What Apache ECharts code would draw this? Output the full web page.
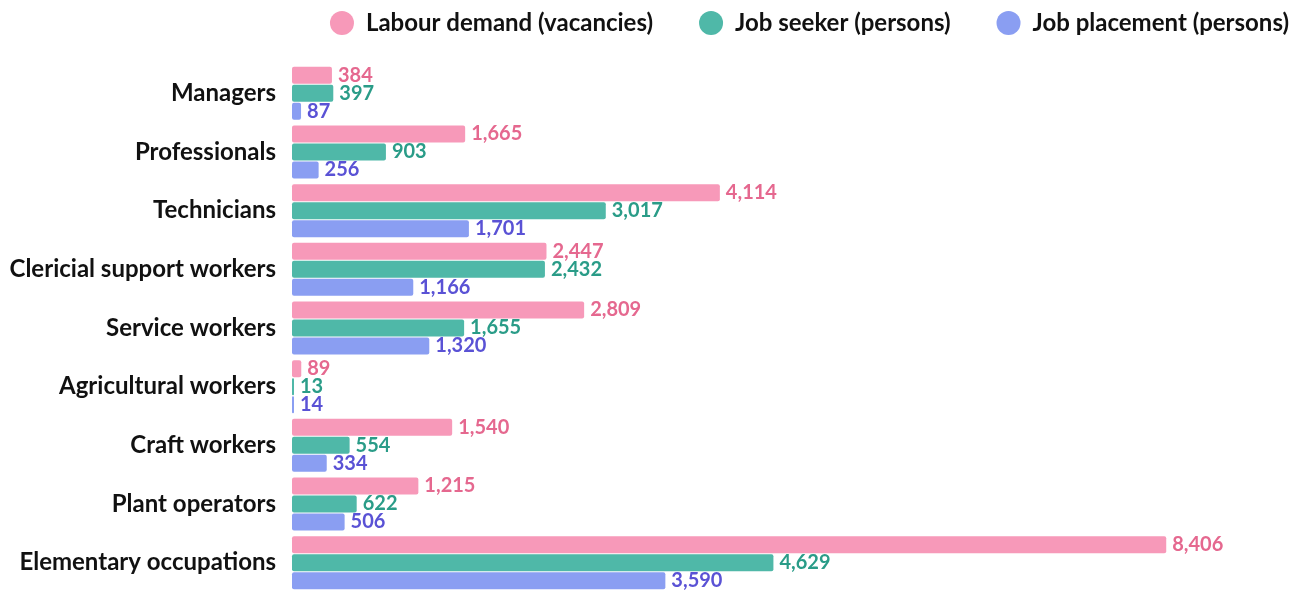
<!DOCTYPE html>
<html>
<head>
<meta charset="utf-8">
<script src="https://cdn.jsdelivr.net/npm/echarts@6/dist/echarts.min.js"></script>
<style>
  html, body { margin: 0; padding: 0; background: #fff; }
  #chart { width: 1302px; height: 592px; }
</style>
</head>
<body>
<div id="chart"></div>
<script>
  var categories = ['Managers', 'Professionals', 'Technicians', 'Clericial support workers',
    'Service workers', 'Agricultural workers', 'Craft workers', 'Plant operators', 'Elementary occupations'];
  var labourDemand = [384, 1665, 4114, 2447, 2809, 89, 1540, 1215, 8406];
  var jobSeeker = [397, 903, 3017, 2432, 1655, 13, 554, 622, 4629];
  var jobPlacement = [87, 256, 1701, 1166, 1320, 14, 334, 506, 3590];
  var seriesNames = ['Labour demand (vacancies)', 'Job seeker (persons)', 'Job placement (persons)'];

  var chart = echarts.init(document.getElementById('chart'));

  function makeSeries(name, data, barColor, textColor) {
    return {
      name: name,
      type: 'bar',
      data: data,
      barWidth: 17,
      barGap: '6%',
      barMinHeight: 2,
      itemStyle: { color: barColor, borderRadius: 2 },
      label: {
        show: true,
        position: 'right',
        distance: 6,
        color: textColor,
        fontFamily: 'Lato',
        fontWeight: 'bold',
        fontSize: 20,
        formatter: function (p) { return p.value.toLocaleString('en-US'); }
      }
    };
  }

  var option = {
    animation: false,
    color: ['#F799B9', '#4FB8A8', '#8A9EF2'],
    legend: {
      right: 8,
      top: 6,
      icon: 'circle',
      itemWidth: 24,
      itemHeight: 24,
      itemGap: 46,
      textStyle: {
        fontFamily: 'Lato', fontWeight: 'bold', fontSize: 24, color: '#111',
        padding: [0, 0, 0, 7]
      },
      data: seriesNames
    },
    grid: {
      left: 292,
      top: 64,
      width: 936,
      height: 528
    },
    xAxis: {
      type: 'value',
      min: 0,
      max: 9000,
      show: false
    },
    yAxis: {
      type: 'category',
      inverse: true,
      data: categories,
      axisLine: { show: false },
      axisTick: { show: false },
      axisLabel: {
        margin: 16,
        fontFamily: 'Lato',
        fontWeight: 'bold',
        fontSize: 24,
        color: '#111'
      }
    },
    series: [
      makeSeries(seriesNames[0], labourDemand, '#F799B9', '#E5688F'),
      makeSeries(seriesNames[1], jobSeeker, '#4FB8A8', '#2A9C88'),
      makeSeries(seriesNames[2], jobPlacement, '#8A9EF2', '#5A52D5')
    ]
  };
  chart.setOption(option);
</script>
</body>
</html>
